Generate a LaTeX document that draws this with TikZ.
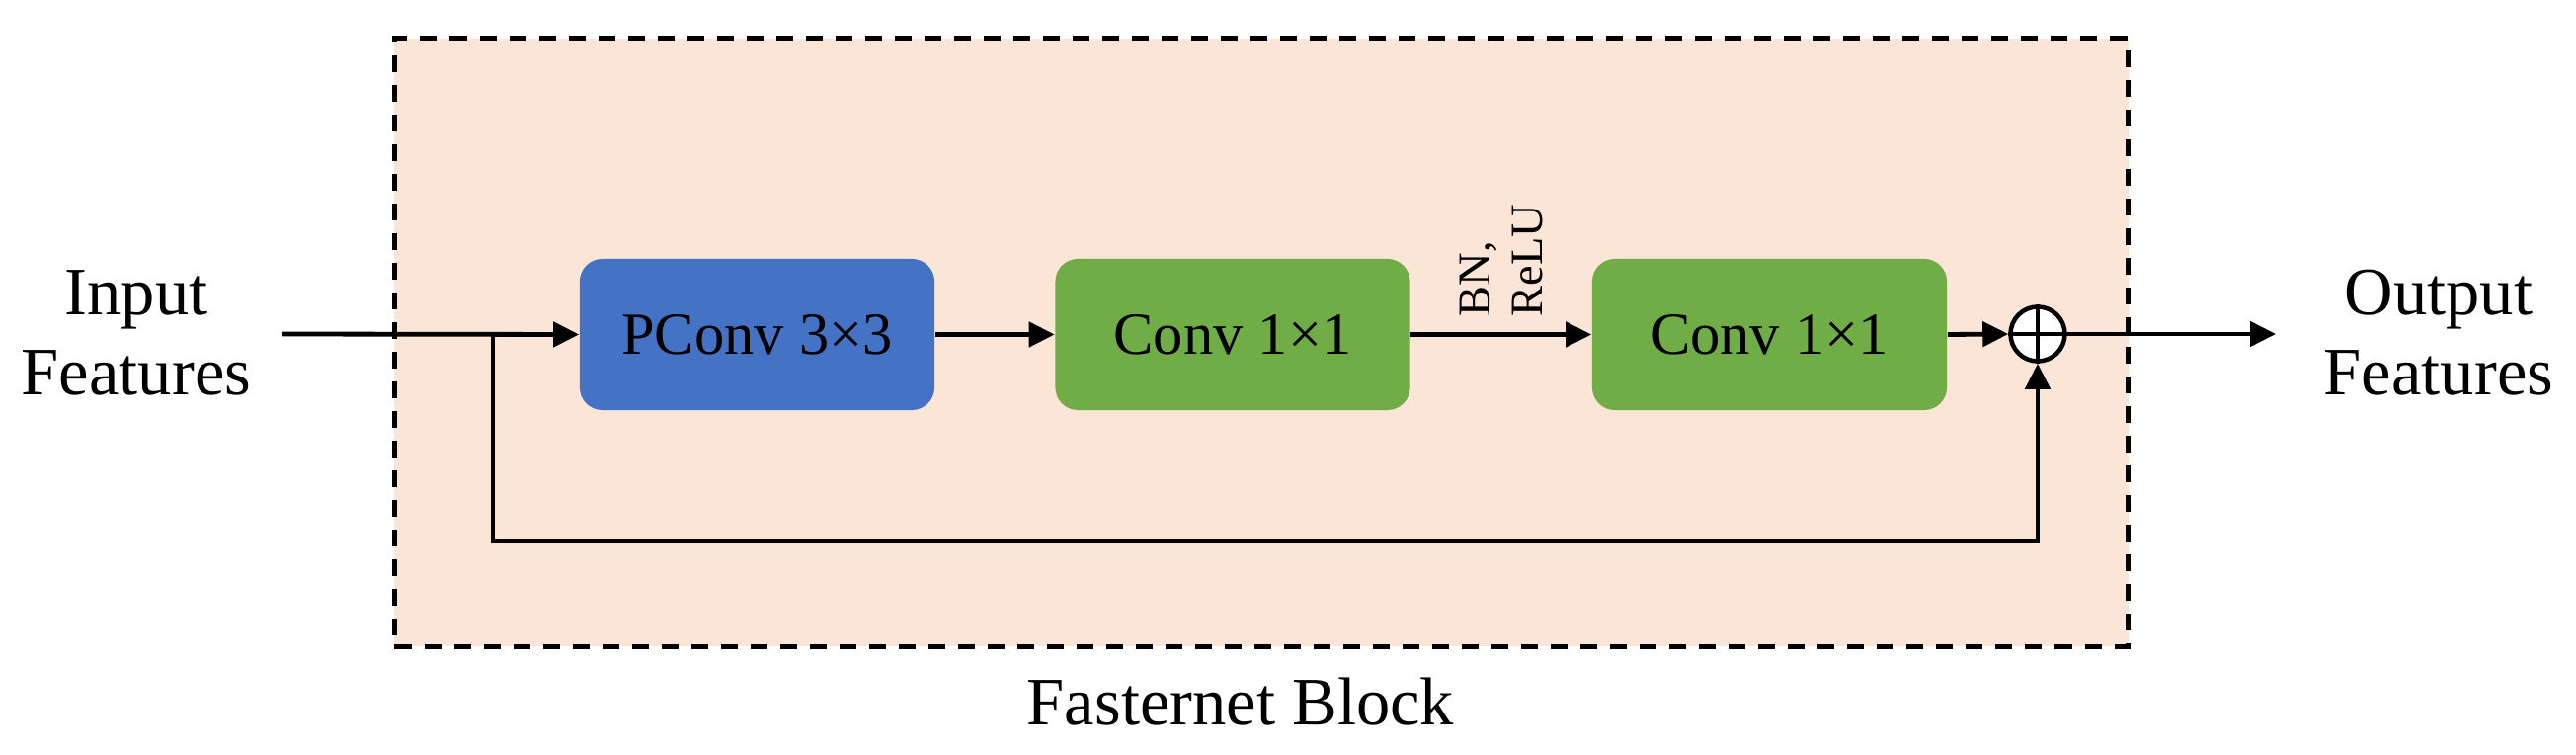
\documentclass[tikz,border=0pt]{standalone}
\usepackage{fontspec}
\setmainfont{Liberation Serif}
\usetikzlibrary{arrows.meta}
\definecolor{peach}{HTML}{FBE5D6}
\definecolor{pblue}{HTML}{4472C4}
\definecolor{pgreen}{HTML}{70AD47}
\tikzset{
  conn/.style={line width=0.048cm, draw=black},
  arr/.style={conn, -{Triangle[length=0.26cm,width=0.25cm]}},
  opbox/.style={rounded corners=0.23cm, minimum width=3.59cm, minimum height=1.53cm,
     inner sep=0pt, font=\fontsize{17.2}{20}\selectfont, text=black},
  lbl/.style={inner sep=0pt, align=center, font=\fontsize{19.5}{23}\selectfont},
}
\begin{document}
\begin{tikzpicture}[x=0.01cm,y=-0.01cm]
\useasboundingbox (0,0) rectangle (2608,764);
\node (blk) [draw=black, line width=0.05cm, dash pattern=on 0.17cm off 0.13cm, fill=peach,
  minimum width=17.54cm, minimum height=6.15cm, inner sep=0pt] at (1277,346.5) {};
\node (in) [lbl] at (138,337) {Input\\Features};
\node (out) [lbl] at (2469,337) {Output\\Features};
\node (title) [inner sep=0pt, anchor=base, font=\fontsize{19.5}{23}\selectfont] at (1256,733) {Fasternet Block};
\node (pc) [opbox, fill=pblue] at (766.5,338.5) {PConv 3×3};
\node (c1) [opbox, fill=pgreen] at (1248,338.5) {Conv 1×1};
\node (c2) [opbox, fill=pgreen] at (1791.5,338.5) {Conv 1×1};
\node (bn) [rotate=90, anchor=west, inner sep=0pt, align=left, font=\fontsize{13.2}{15}\selectfont] at (1520,321) {BN,\\ReLU};
\node (sum) [circle, draw=black, line width=0.045cm, fill=white, minimum size=0.55cm, inner sep=0pt] at (2063,338) {};
\draw[conn] (sum.north) -- (sum.south);
\draw[conn] (sum.west) -- (sum.east);
\coordinate (start) at (286,338);
\coordinate (br) at (499,338);
\coordinate (end) at (2304,338);
\draw[arr] (start) -- (pc.west);
\draw[arr] (pc.east) -- (c1.west);
\draw[arr] (c1.east) -- (c2.west);
\draw[arr] (c2.east) -- (sum.west);
\draw[arr] (sum.east) -- (end);
\draw[arr] (br) -- (499,547) -| (sum.south);
\end{tikzpicture}
\end{document}
